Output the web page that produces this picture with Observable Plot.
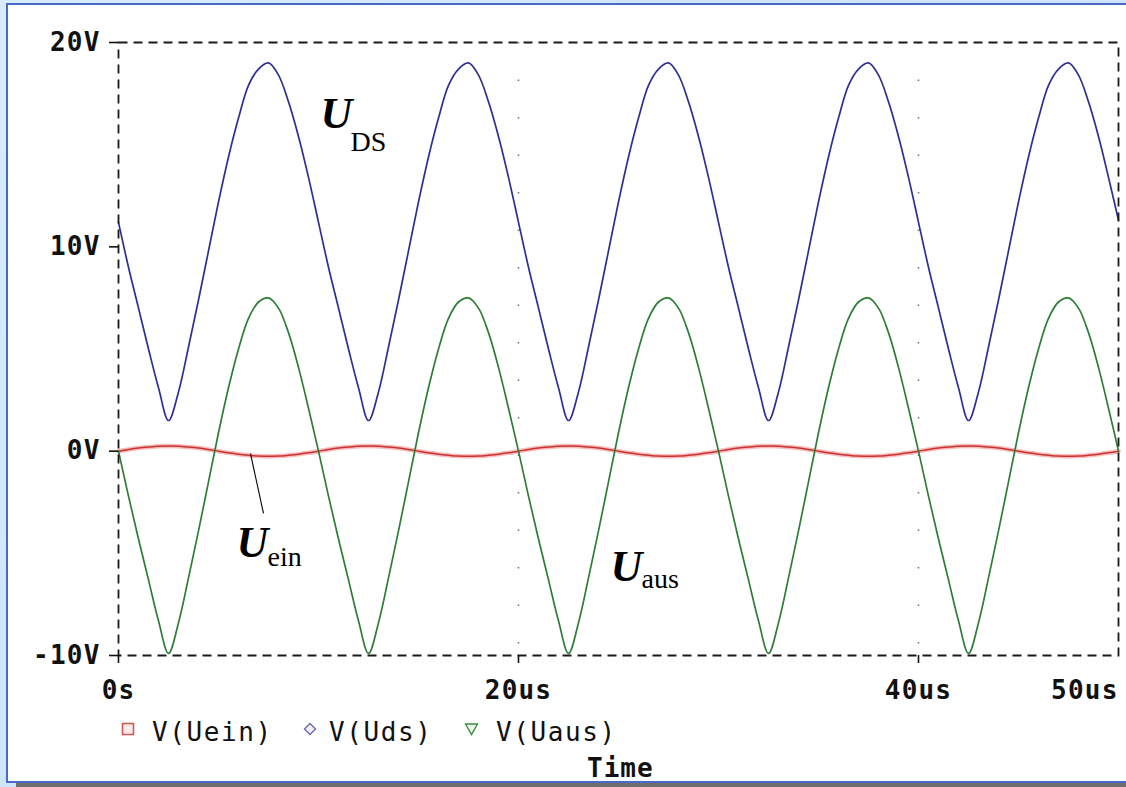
<!DOCTYPE html>
<html><head><meta charset="utf-8">
<script src="https://cdn.jsdelivr.net/npm/d3@7"></script>
<script src="https://cdn.jsdelivr.net/npm/@observablehq/plot@0.6"></script>
<style>
html,body{margin:0;padding:0;}
body{width:1126px;height:787px;overflow:hidden;position:relative;background:linear-gradient(135deg,#d8ecfb 0%,#c2dcf4 100%);}
#panel{position:absolute;left:6px;top:3px;width:1140px;height:780px;background:#fff;border:2px solid #4a68c8;box-sizing:border-box;box-shadow:10px 4px 0 #6e6e6e;}
#chart{position:absolute;left:0;top:0;}
#chart svg{overflow:visible;}
g[aria-label$="tick label"] text{letter-spacing:1.2px;}
.lg{position:absolute;font-family:"DejaVu Sans Mono",monospace;font-size:26px;line-height:1;color:#111;letter-spacing:1.6px;white-space:nowrap;}
.mk{position:absolute;}
</style>
</head><body>
<div id="panel"></div>
<div id="chart"></div>
<svg class="mk" style="left:121px;top:722px" width="14" height="14"><rect x="1.5" y="1.5" width="11" height="11" fill="#fbeaea" stroke="#cf5c5c" stroke-width="1.6"/></svg>
<div class="lg" style="left:152px;top:719px">V(Uein)</div>
<svg class="mk" style="left:303px;top:722px" width="14" height="14"><path d="M7,1.5 L12.5,7 L7,12.5 L1.5,7 Z" fill="#f2f2fa" stroke="#6a6aae" stroke-width="1.4"/></svg>
<div class="lg" style="left:329px;top:719px">V(Uds)</div>
<svg class="mk" style="left:464px;top:722px" width="15" height="14"><path d="M1.5,2 L13.5,2 L7.5,12.5 Z" fill="#eef7ee" stroke="#3c8c44" stroke-width="1.4"/></svg>
<div class="lg" style="left:496px;top:719px">V(Uaus)</div>
<div class="lg" style="left:587px;top:755px;font-weight:bold;letter-spacing:1px">Time</div>
<script>
const uaus = [
 0,-2.2,-4.3,-6.3,-8.3,-9.9,-8.4,-6.2,-3.9,-1.5,0.9,3.1,5.0,6.5,7.3,7.5,7.0,5.8,4.1,2.1,
 0,-2.2,-4.3,-6.3,-8.3,-9.9,-8.4,-6.2,-3.9,-1.5,0.9,3.1,5.0,6.5,7.3,7.5,7.0,5.8,4.1,2.1,
 0,-2.2,-4.3,-6.3,-8.3,-9.9,-8.4,-6.2,-3.9,-1.5,0.9,3.1,5.0,6.5,7.3,7.5,7.0,5.8,4.1,2.1,
 0,-2.2,-4.3,-6.3,-8.3,-9.9,-8.4,-6.2,-3.9,-1.5,0.9,3.1,5.0,6.5,7.3,7.5,7.0,5.8,4.1,2.1,
 0,-2.2,-4.3,-6.3,-8.3,-9.9,-8.4,-6.2,-3.9,-1.5,0.9,3.1,5.0,6.5,7.3,7.5,7.0,5.8,4.1,2.1,
 0];
const uds = [
 11.2,9.0,7.0,5.0,3.1,1.5,2.9,5.1,7.4,9.8,12.2,14.4,16.3,17.9,18.7,19.0,18.4,17.1,15.4,13.4,
 11.2,9.0,7.0,5.0,3.1,1.5,2.9,5.1,7.4,9.8,12.2,14.4,16.3,17.9,18.7,19.0,18.4,17.1,15.4,13.4,
 11.2,9.0,7.0,5.0,3.1,1.5,2.9,5.1,7.4,9.8,12.2,14.4,16.3,17.9,18.7,19.0,18.4,17.1,15.4,13.4,
 11.2,9.0,7.0,5.0,3.1,1.5,2.9,5.1,7.4,9.8,12.2,14.4,16.3,17.9,18.7,19.0,18.4,17.1,15.4,13.4,
 11.2,9.0,7.0,5.0,3.1,1.5,2.9,5.1,7.4,9.8,12.2,14.4,16.3,17.9,18.7,19.0,18.4,17.1,15.4,13.4,
 11.3];
const uein = [
 0,0.08,0.15,0.2,0.24,0.25,0.24,0.2,0.15,0.08,0,-0.08,-0.15,-0.2,-0.24,-0.25,-0.24,-0.2,-0.15,-0.08,
 0,0.08,0.15,0.2,0.24,0.25,0.24,0.2,0.15,0.08,0,-0.08,-0.15,-0.2,-0.24,-0.25,-0.24,-0.2,-0.15,-0.08,
 0,0.08,0.15,0.2,0.24,0.25,0.24,0.2,0.15,0.08,0,-0.08,-0.15,-0.2,-0.24,-0.25,-0.24,-0.2,-0.15,-0.08,
 0,0.08,0.15,0.2,0.24,0.25,0.24,0.2,0.15,0.08,0,-0.08,-0.15,-0.2,-0.24,-0.25,-0.24,-0.2,-0.15,-0.08,
 0,0.08,0.15,0.2,0.24,0.25,0.24,0.2,0.15,0.08,0,-0.08,-0.15,-0.2,-0.24,-0.25,-0.24,-0.2,-0.15,-0.08,
 0];
const time = d3.range(0, 50.001, 0.5);

const yTicks = [-10, 0, 10, 20];
const xTicks = [0, 20, 40];
const xTickEnd = [50];
const gridT = [20, 40];

// annotations (data coordinates)
const annoMain = [
  {t: 10.1, v: 16.5, s: "U"},
  {t: 5.9,  v: -4.5, s: "U"},
  {t: 24.6, v: -5.65, s: "U"}
];
const annoSub = [
  {t: 11.6, v: 15.15, s: "DS"},
  {t: 7.45, v: -5.2, s: "ein"},
  {t: 26.15, v: -6.25, s: "aus"}
];
const leader = [{t1: 6.6, v1: -0.12, t2: 7.25, v2: -3.05}];

const rows = time.map((t, i) => ({t, uein: uein[i], uds: uds[i], uaus: uaus[i]}));
const curve = "catmull-rom";

const plot = Plot.plot({
  width: 1126, height: 705,
  marginLeft: 118, marginRight: 8, marginTop: 42, marginBottom: 50,
  x: {domain: [0, 50]},
  y: {domain: [-10, 20]},
  style: {background: "transparent", fontFamily: "DejaVu Sans Mono", color: "#111"},
  marks: [
    Plot.ruleX(gridT, {stroke: "#777", strokeWidth: 1.6, strokeDasharray: "1.5,36"}),
    Plot.line(rows, {x: "t", y: "uein", stroke: "#f6bcbc", strokeWidth: 4.5, curve}),
    Plot.line(rows, {x: "t", y: "uein", stroke: "#c93232", strokeWidth: 1.5, curve}),
    Plot.line(rows, {x: "t", y: "uds", stroke: "#2f2f92", strokeWidth: 1.7, curve}),
    Plot.line(rows, {x: "t", y: "uaus", stroke: "#2e7d37", strokeWidth: 1.7, curve}),
    Plot.frame({stroke: "#1a1a1a", strokeWidth: 1.8, strokeDasharray: "9,6"}),
    Plot.axisY({ticks: yTicks, tickSize: 9, tickPadding: 9, strokeWidth: 1.6,
      tickFormat: d => d + "V", fontSize: 26, fontWeight: "bold", label: null}),
    Plot.axisX({ticks: xTicks, tickSize: 8, tickPadding: 17, strokeWidth: 1.6,
      tickFormat: d => d === 0 ? "0s" : d + "us", fontSize: 26, fontWeight: "bold", label: null}),
    Plot.axisX({ticks: xTickEnd, tickSize: 0, tickPadding: 25, textAnchor: "end",
      tickFormat: d => d + "us", fontSize: 26, fontWeight: "bold", label: null}),
    Plot.link(leader, {x1: "t1", y1: "v1", x2: "t2", y2: "v2", stroke: "#000", strokeWidth: 1.1}),
    Plot.text(annoMain, {x: "t", y: "v", text: "s", textAnchor: "start", lineAnchor: "middle",
      fontFamily: "Liberation Serif", fontStyle: "italic", fontWeight: "bold", fontSize: 44, fill: "#000"}),
    Plot.text(annoSub, {x: "t", y: "v", text: "s", textAnchor: "start", lineAnchor: "middle",
      fontFamily: "Liberation Serif", fontSize: 28, fill: "#000"})
  ]
});
document.getElementById("chart").appendChild(plot);
</script>
</body></html>
